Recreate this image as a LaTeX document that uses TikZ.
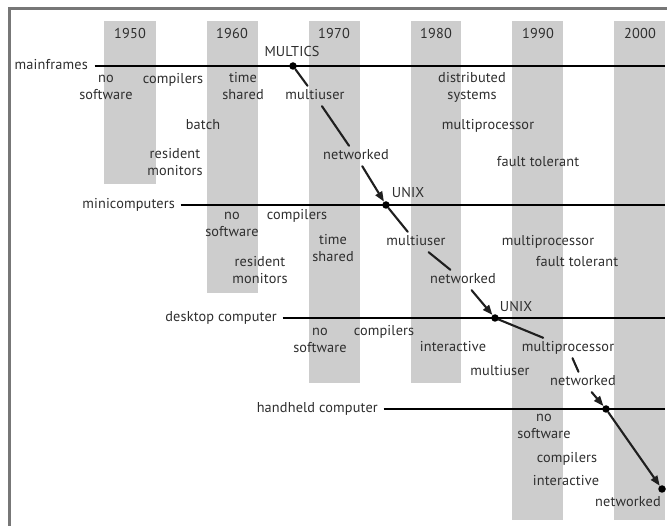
\documentclass[tikz,border=0pt]{standalone}
\usepackage{fontspec}
\setmainfont{PT Sans}[LetterSpace=1]
\usetikzlibrary{arrows.meta}
\definecolor{colgray}{HTML}{CDCDCD}
\definecolor{framegray}{HTML}{777777}
\definecolor{txt}{HTML}{2E2E2E}
\begin{document}
\begin{tikzpicture}[x=1pt,y=-1pt,
  lbl/.style={font=\fontsize{14.3}{17}\selectfont, text=txt, align=center, inner sep=1.5pt},
  era/.style={fill=colgray},
  track/.style={line width=1.5pt, black},
  evo/.style={line width=2.1pt, black!88, line cap=round},
  evoarrow/.style={evo, -{Triangle[length=10pt,width=7.5pt]}},
  dot/.style={circle, fill=black, inner sep=0pt, minimum size=7.5pt},
]
\useasboundingbox (0,0) rectangle (667,526);
% frame
\fill[framegray] (8,7) rectangle (667,10);
\fill[framegray] (8,7) rectangle (11,526);
% decade columns
\fill[era] (104,21) rectangle (156,184);
\fill[era] (207,21) rectangle (258,293);
\fill[era] (309,21) rectangle (360,383);
\fill[era] (411,21) rectangle (461,383);
\fill[era] (512,21) rectangle (563,520);
\fill[era] (614,21) rectangle (665,520);
% years
\node[lbl] (y1950) at (130,35) {1950\strut};
\node[lbl] (y1960) at (232,35) {1960\strut};
\node[lbl] (y1970) at (334,35) {1970\strut};
\node[lbl] (y1980) at (436,35) {1980\strut};
\node[lbl] (y1990) at (538,35) {1990\strut};
\node[lbl] (y2000) at (640,35) {2000\strut};
% track labels and ends
\node[lbl, anchor=east] (mf) at (89.5,66) {mainframes\strut};
\node[lbl, anchor=east] (mc) at (176.5,205) {minicomputers\strut};
\node[lbl, anchor=east] (dt) at (278.5,318) {desktop computer\strut};
\node[lbl, anchor=east] (hh) at (379.5,409) {handheld computer\strut};
\coordinate (mfend) at (665,66);
\coordinate (mcend) at (665,205);
\coordinate (dtend) at (665,318);
\coordinate (hhend) at (665,409);
\draw[track] ([xshift=5pt]mf.east) -- (mfend);
\draw[track] ([xshift=4pt]mc.east) -- (mcend);
\draw[track] ([xshift=4pt]dt.east) -- (dtend);
\draw[track] ([xshift=4pt]hh.east) -- (hhend);
% mainframes
\node[lbl] (mfno) at (106,88) {no\strut\\software\strut};
\node[lbl] (mfcomp) at (173,80) {compilers\strut};
\node[lbl] (mftime) at (243,88) {time\strut\\shared\strut};
\node[lbl] (mfmulti) at (315,96) {multiuser\strut};
\node[lbl] (mfbatch) at (203,126) {batch\strut};
\node[lbl] (mfres) at (175,164) {resident\strut\\monitors\strut};
\node[lbl] (mfnet) at (356,156) {networked\strut};
\node[lbl] (mfdist) at (472,88) {distributed\strut\\systems\strut};
\node[lbl] (mfmp) at (488,126) {multiprocessor\strut};
\node[lbl] (mfft) at (538,163) {fault tolerant\strut};
% minicomputers
\node[lbl] (mcno) at (232,225) {no\strut\\software\strut};
\node[lbl] (mccomp) at (297,216) {compilers\strut};
\node[lbl] (mctime) at (333,250) {time\strut\\shared\strut};
\node[lbl] (mcres) at (260,272) {resident\strut\\monitors\strut};
\node[lbl] (mcmulti) at (416,242) {multiuser\strut};
\node[lbl] (mcnet) at (463,280) {networked\strut};
\node[lbl] (mcmp) at (548,242) {multiprocessor\strut};
\node[lbl] (mcft) at (577,263) {fault tolerant\strut};
% desktop
\node[lbl] (dtno) at (320,341) {no\strut\\software\strut};
\node[lbl] (dtcomp) at (384,332) {compilers\strut};
\node[lbl] (dtint) at (453,348) {interactive\strut};
\node[lbl] (dtmp) at (568,348) {multiprocessor\strut};
\node[lbl] (dtmulti) at (500,372) {multiuser\strut};
\node[lbl] (dtnet) at (583,382) {networked\strut};
% handheld
\node[lbl] (hhno) at (544,427) {no\strut\\software\strut};
\node[lbl] (hhcomp) at (567,459) {compilers\strut};
\node[lbl] (hhint) at (566,482) {interactive\strut};
\node[lbl] (hhnet) at (628,503) {networked\strut};
% milestones
\node[lbl] (multics) at (292,53) {MULTICS\strut};
\node[lbl] (unixa) at (408,194.5) {UNIX\strut};
\node[lbl] (unixb) at (516,308.5) {UNIX\strut};
\node[dot] (d1) at (293,66) {};
\node[dot] (d2) at (386,205) {};
\node[dot] (d3) at (495,318) {};
\node[dot] (d4) at (606,409) {};
\node[dot] (d5) at (662,489) {};
% evolution path
\draw[evo] (d1) -- (mfmulti);
\draw[evo] (mfmulti) -- (mfnet);
\draw[evoarrow] (mfnet) -- (d2);
\draw[evo] (d2) -- (mcmulti);
\draw[evo] (mcmulti) -- (mcnet);
\draw[evoarrow] (mcnet) -- (d3);
\draw[evo] (d3) -- (dtmp);
\draw[evo] (dtmp) -- (dtnet);
\draw[evoarrow] (dtnet) -- (d4);
\draw[evoarrow] (d4) -- (d5);
\end{tikzpicture}
\end{document}
